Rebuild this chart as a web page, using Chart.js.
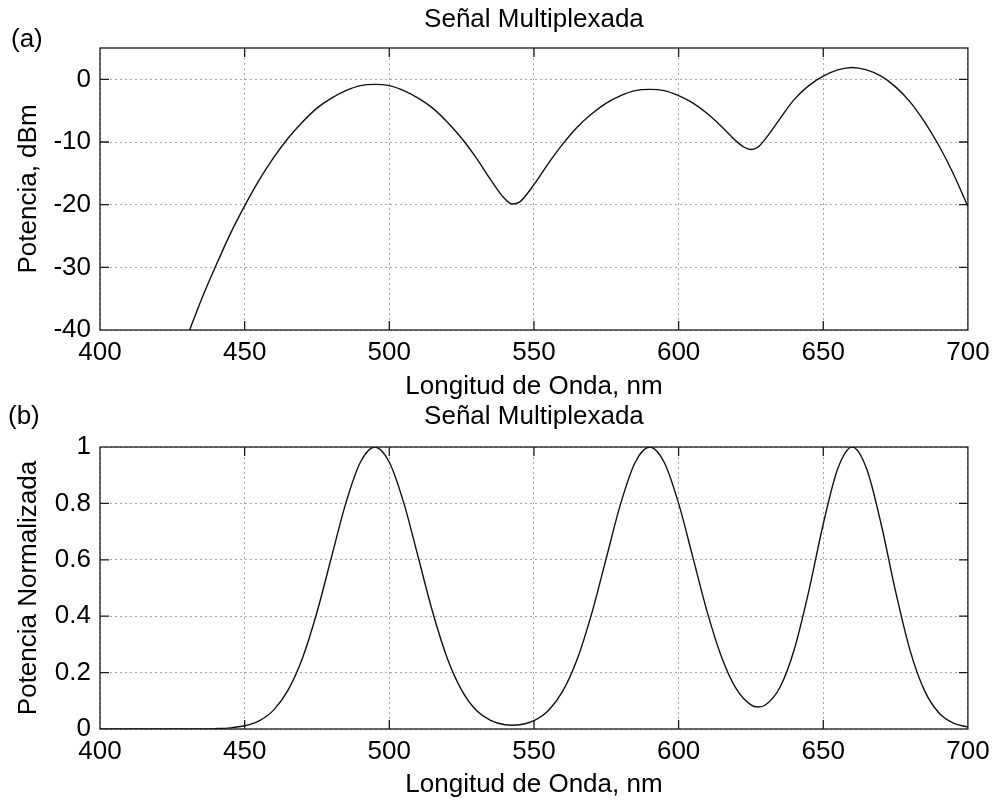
<!DOCTYPE html>
<html><head><meta charset="utf-8">
<script src="https://cdn.jsdelivr.net/npm/chart.js@4.4.1/dist/chart.umd.min.js"></script>
<style>
html,body{margin:0;padding:0;background:#fff;}
#wrap{position:relative;width:997px;height:803px;overflow:hidden;background:#fff;}
.c{position:absolute;left:0;}
.lbl{position:absolute;font-family:"Liberation Sans",Arial,sans-serif;font-size:26px;color:#000;line-height:1;}
</style></head><body>
<div id="wrap">
<canvas id="c1" class="c" style="top:0" width="997" height="405"></canvas>
<canvas id="c2" class="c" style="top:395px" width="997" height="408"></canvas>
<div class="lbl" style="left:11px;top:25px">(a)</div>
<div class="lbl" style="left:8px;top:402px">(b)</div>
</div>
<script>
// ---- data ----
const chartTitle = "Señal Multiplexada";
const xTitle = "Longitud de Onda, nm";
const xTicks = [400, 450, 500, 550, 600, 650, 700];

// (a) power in dBm
const wavelengthA = [430,435,440,445,450,455,460,465,470,475,480,485,490,495,500,505,510,515,520,525,530,535,540,542.5,545,550,555,560,565,570,575,580,585,590,595,600,605,610,615,620,622.5,625,627.5,630,635,640,645,650,655,660,665,670,675,680,685,690,695,700];
const powerDbm    = [-41.2,-35.2,-29.8,-24.7,-20.2,-16.1,-12.5,-9.4,-6.8,-4.6,-3.0,-1.8,-1.0,-0.8,-1.0,-1.8,-3.0,-4.6,-6.8,-9.4,-12.5,-16.0,-19.1,-19.9,-19.6,-16.8,-13.4,-10.3,-7.6,-5.5,-3.8,-2.6,-1.8,-1.6,-1.8,-2.6,-3.8,-5.5,-7.6,-9.9,-10.8,-11.2,-10.8,-9.5,-6.3,-3.2,-1.0,0.5,1.5,1.9,1.5,0.5,-1.2,-3.6,-6.8,-10.6,-15.1,-20.3];
const yTicksA = [-40, -30, -20, -10, 0];
const yTitleA = "Potencia, dBm";

// (b) normalised power
const wavelengthB = [400,430,435,440,445,450,455,460,465,470,475,480,485,490,495,500,505,510,515,520,525,530,535,540,542.5,545,550,555,560,565,570,575,580,585,590,595,600,605,610,615,620,625,627.5,630,635,640,645,650,655,660,665,670,675,680,685,690,695,700];
const powerNorm   = [0,0.0001,0.0004,0.0013,0.004,0.0115,0.029,0.067,0.138,0.252,0.414,0.609,0.802,0.946,1.0,0.946,0.802,0.609,0.414,0.252,0.138,0.067,0.031,0.015,0.0135,0.015,0.030,0.066,0.135,0.249,0.411,0.606,0.80,0.946,1.0,0.946,0.80,0.606,0.411,0.251,0.141,0.0855,0.078,0.085,0.147,0.283,0.489,0.727,0.923,1.0,0.923,0.727,0.488,0.279,0.136,0.057,0.021,0.007];
const yTicksB = [0, 0.2, 0.4, 0.6, 0.8, 1];
const yTitleB = "Potencia Normalizada";

Chart.defaults.font.family = "'Liberation Sans', Arial, sans-serif";
Chart.defaults.font.size = 26;
Chart.defaults.color = '#000';

const framePlugin = {
  id: 'frame',
  afterDatasetsDraw(chart) {
    const {ctx, chartArea: {left, right, top, bottom}, scales: {x, y}} = chart;
    ctx.save();
    ctx.setLineDash([]);
    ctx.strokeStyle = '#1a1a1a';
    ctx.lineWidth = 1.3;
    ctx.strokeRect(left, top, right - left, bottom - top);
    const L = 9;
    ctx.beginPath();
    x.ticks.forEach(t => {
      const px = x.getPixelForValue(t.value);
      if (px <= left + 1 || px >= right - 1) return;
      ctx.moveTo(px, bottom); ctx.lineTo(px, bottom - L);
      ctx.moveTo(px, top); ctx.lineTo(px, top + L);
    });
    y.ticks.forEach(t => {
      const py = y.getPixelForValue(t.value);
      if (py <= top + 1 || py >= bottom - 1) return;
      ctx.moveTo(left, py); ctx.lineTo(left + L, py);
      ctx.moveTo(right, py); ctx.lineTo(right - L, py);
    });
    ctx.stroke();
    ctx.restore();
  }
};

function makeChart(id, xs, ys, yMin, yMax, yTicks, yTitle, g) {
  const pts = xs.map((v, i) => ({x: v, y: ys[i]}));
  return new Chart(document.getElementById(id), {
    type: 'line',
    data: { datasets: [{
      data: pts, borderColor: '#111', borderWidth: 1.4, pointRadius: 0,
      cubicInterpolationMode: 'monotone', fill: false
    }]},
    options: {
      responsive: false, animation: false, events: [],
      layout: { padding: { left: 0, right: 28, top: 0, bottom: 0 } },
      plugins: {
        legend: { display: false }, tooltip: { enabled: false },
        title: { display: true, text: chartTitle, color: '#000', fullSize: false,
                 font: { size: 26, weight: 'normal', lineHeight: 1.2 },
                 padding: { top: g.titleTop, bottom: g.titleBottom } }
      },
      scales: {
        x: {
          type: 'linear', min: 400, max: 700,
          afterBuildTicks: s => { s.ticks = xTicks.map(v => ({value: v})); },
          afterFit: s => { s.height = g.xHeight; },
          ticks: { padding: 7.4, color: '#000', font: { size: 26, lineHeight: 1.2 }, maxRotation: 0, autoSkip: false },
          grid: { color: '#a8a8a8', lineWidth: 1, drawTicks: false },
          border: { display: false, dash: [2, 3] },
          title: { display: true, text: xTitle, color: '#000', font: { size: 26, lineHeight: 1.2 }, padding: { top: 0, bottom: 2.4 } }
        },
        y: {
          type: 'linear', min: yMin, max: yMax,
          afterBuildTicks: s => { s.ticks = yTicks.map(v => ({value: v})); },
          afterFit: s => { s.width = 100; },
          ticks: { padding: 9, color: '#000', font: { size: 26, lineHeight: 1.2 }, callback: v => String(v) },
          grid: { color: '#a8a8a8', lineWidth: 1, drawTicks: false },
          border: { display: false, dash: [2, 3] },
          title: { display: true, text: yTitle, color: '#000', font: { size: 26, lineHeight: 1.2 }, padding: { top: 13, bottom: 0 } }
        }
      }
    },
    plugins: [framePlugin]
  });
}

makeChart('c1', wavelengthA, powerDbm, -40, 5, yTicksA, yTitleA,
  { titleTop: 4.4, titleBottom: 12.4, xHeight: 75 });
makeChart('c2', wavelengthB, powerNorm, 0, 1, yTicksB, yTitleB,
  { titleTop: 6.4, titleBottom: 14.4, xHeight: 74 });
</script>
</body></html>
